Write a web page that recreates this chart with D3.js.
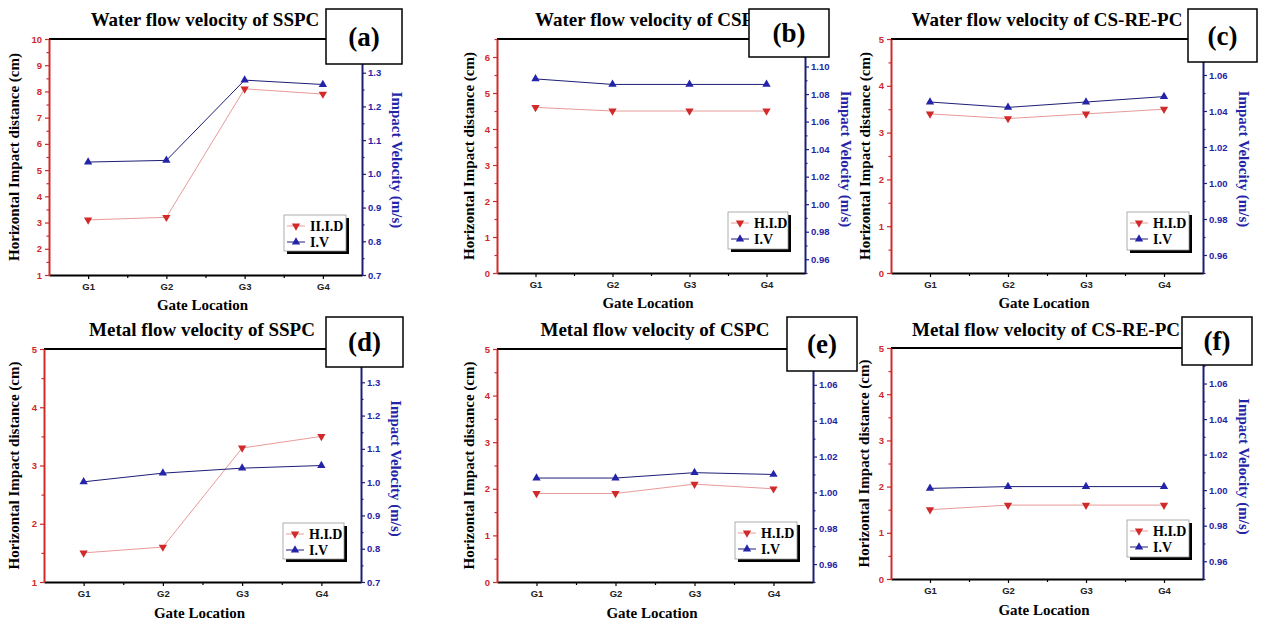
<html>
<head>
<script src="https://cdn.jsdelivr.net/npm/d3@7"></script>
<style>
body { margin:0; background:#fff; }
</style>
</head>
<body>
<script>
// ---- data ----
var gates = ["G1", "G2", "G3", "G4"];
var titles = ["Water flow velocity of SSPC", "Water flow velocity of CSPC", "Water flow velocity of CS-RE-PC",
              "Metal flow velocity of SSPC", "Metal flow velocity of CSPC", "Metal flow velocity of CS-RE-PC"];
var tags = ["(a)", "(b)", "(c)", "(d)", "(e)", "(f)"];
var hidNames = ["II.I.D", "H.I.D", "H.I.D", "H.I.D", "H.I.D", "H.I.D"];

var hidA = [3.1, 3.2, 8.1, 7.9];
var ivA  = [1.035, 1.040, 1.278, 1.265];
var hidB = [4.6, 4.5, 4.5, 4.5];
var ivB  = [1.091, 1.087, 1.087, 1.087];
var hidC = [3.4, 3.3, 3.4, 3.5];
var ivC  = [1.045, 1.042, 1.045, 1.048];
var hidD = [1.5, 1.6, 3.3, 3.5];
var ivD  = [1.001, 1.027, 1.042, 1.050];
var hidE = [1.9, 1.9, 2.1, 2.0];
var ivE  = [1.008, 1.008, 1.011, 1.010];
var hidF = [1.5, 1.6, 1.6, 1.6];
var ivF  = [1.001, 1.002, 1.002, 1.002];

var leftTicksA = [1, 2, 3, 4, 5, 6, 7, 8, 9, 10];
var leftTicksB = [0, 1, 2, 3, 4, 5, 6];
var leftTicks05 = [0, 1, 2, 3, 4, 5];
var leftTicksD = [1, 2, 3, 4, 5];
var rightTicksA = [0.7, 0.8, 0.9, 1.0, 1.1, 1.2, 1.3];
var rightTicksB = [0.96, 0.98, 1.00, 1.02, 1.04, 1.06, 1.08, 1.10];
var rightTicksC = [0.96, 0.98, 1.00, 1.02, 1.04, 1.06];

var red = "#d02a2a", navy = "#1e1e78", blue = "#2424a8";
var serif = "'Liberation Serif', 'Times New Roman', serif";
var sans = "'Liberation Sans', Arial, sans-serif";

var svg = d3.select("body").append("svg")
    .attr("width", 1263)
    .attr("height", 628);

var panels = [
  {hid:hidA, iv:ivA, yl:[1,10], lt:leftTicksA, yr:[0.7,1.4], rt:rightTicksA, rf:".1f",
   left:49, right:362, top:39, bottom:275, tx:205, ty:26, box:[326,9,76,55], leg:[284,215,62,36],
   llx:19, rlx:392, xly:310},
  {hid:hidB, iv:ivB, yl:[0,6.5], lt:leftTicksB, yr:[0.95,1.12], rt:rightTicksB, rf:".2f",
   left:497, right:805, top:39, bottom:273, tx:651, ty:26, box:[749,9,80,48], leg:[728,212,60,37],
   llx:474, rlx:841, xly:308},
  {hid:hidC, iv:ivC, yl:[0,5], lt:leftTicks05, yr:[0.95,1.08], rt:rightTicksC, rf:".2f",
   left:891, right:1203, top:39, bottom:273, tx:1047, ty:26, box:[1188,9,69,53], leg:[1127,212,62,38],
   llx:870, rlx:1239, xly:308},
  {hid:hidD, iv:ivD, yl:[1,5], lt:leftTicksD, yr:[0.7,1.4], rt:rightTicksA, rf:".1f",
   left:44, right:361, top:349, bottom:582, tx:202, ty:336, box:[326,317,77,50], leg:[283,523,61,36],
   llx:19, rlx:391, xly:618},
  {hid:hidE, iv:ivE, yl:[0,5], lt:leftTicks05, yr:[0.95,1.08], rt:rightTicksC, rf:".2f",
   left:497, right:813, top:349, bottom:582, tx:655, ty:336, box:[787,317,70,54], leg:[735,522,62,37],
   llx:474, rlx:845, xly:618, clipRight:853},
  {hid:hidF, iv:ivF, yl:[0,5], lt:leftTicks05, yr:[0.95,1.08], rt:rightTicksC, rf:".2f",
   left:891, right:1203, top:348, bottom:579, tx:1046, ty:336, box:[1182,317,70,48], leg:[1127,520,62,37],
   llx:869, rlx:1239, xly:615}
];

function minors(ticks, dom) {
  var step = ticks[1] - ticks[0];
  var m = ticks.map(function(t) { return t - step / 2; });
  m.push(ticks[ticks.length - 1] + step / 2);
  return m.filter(function(t) { return t >= dom[0] - 1e-9 && t <= dom[1] + 1e-9; });
}

function styleAxis(g, color, width) {
  g.select(".domain").attr("stroke", color).attr("stroke-width", width);
  g.selectAll(".tick line").attr("stroke", color).attr("stroke-width", 1.2);
}

panels.forEach(function(p, k) {
  var x = d3.scaleLinear().domain([0.5, 4.5]).range([p.left, p.right]);
  var yL = d3.scaleLinear().domain(p.yl).range([p.bottom, p.top]);
  var yR = d3.scaleLinear().domain(p.yr).range([p.bottom, p.top]);
  var g = svg.append("g");

  // title
  g.append("text").attr("x", p.tx).attr("y", p.ty)
    .attr("text-anchor", "middle")
    .style("font-family", serif).style("font-weight", "bold").style("font-size", "19px")
    .text(titles[k]);

  // top frame line
  g.append("line").attr("x1", p.left).attr("x2", p.right).attr("y1", p.top).attr("y2", p.top)
    .attr("stroke", "#000").attr("stroke-width", 2);

  // bottom axis
  var gx = g.append("g").attr("transform", "translate(0," + p.bottom + ")")
    .call(d3.axisBottom(x).tickValues([1, 2, 3, 4]).tickSize(4).tickSizeOuter(0).tickPadding(4)
      .tickFormat(function(d) { return gates[d - 1]; }));
  styleAxis(gx, "#000", 2);
  gx.selectAll("text").style("font-family", sans).style("font-weight", "bold").style("font-size", "9.5px").attr("fill", "#222");
  var gxm = g.append("g").attr("transform", "translate(0," + p.bottom + ")")
    .call(d3.axisBottom(x).tickValues([1.5, 2.5, 3.5]).tickSize(3).tickSizeOuter(0).tickFormat(""));
  gxm.select(".domain").remove();
  gxm.selectAll("line").attr("stroke", "#000").attr("stroke-width", 1.2);

  // left axis
  var gl = g.append("g").attr("transform", "translate(" + p.left + ",0)")
    .call(d3.axisLeft(yL).tickValues(p.lt).tickSize(4).tickSizeOuter(0).tickPadding(3).tickFormat(d3.format("d")));
  styleAxis(gl, red, 2);
  gl.selectAll("text").style("font-family", sans).style("font-weight", "bold").style("font-size", "9.5px").attr("fill", red);
  var glm = g.append("g").attr("transform", "translate(" + p.left + ",0)")
    .call(d3.axisLeft(yL).tickValues(minors(p.lt, p.yl)).tickSize(2.5).tickSizeOuter(0).tickFormat(""));
  glm.select(".domain").remove();
  glm.selectAll("line").attr("stroke", red).attr("stroke-width", 1.2);

  // right axis
  var gr = g.append("g").attr("transform", "translate(" + p.right + ",0)")
    .call(d3.axisRight(yR).tickValues(p.rt).tickSize(4).tickSizeOuter(0).tickPadding(2).tickFormat(d3.format(p.rf)));
  styleAxis(gr, navy, 2);
  gr.selectAll("text").style("font-family", sans).style("font-weight", "bold").style("font-size", "9.5px").attr("fill", blue);
  var grm = g.append("g").attr("transform", "translate(" + p.right + ",0)")
    .call(d3.axisRight(yR).tickValues(minors(p.rt, p.yr)).tickSize(2.5).tickSizeOuter(0).tickFormat(""));
  grm.select(".domain").remove();
  grm.selectAll("line").attr("stroke", navy).attr("stroke-width", 1.2);

  // axis titles
  var cy = (p.top + p.bottom) / 2;
  g.append("text").attr("transform", "translate(" + p.llx + "," + cy + ") rotate(-90)")
    .attr("text-anchor", "middle")
    .style("font-family", serif).style("font-weight", "bold").style("font-size", "15px")
    .text("Horizontal Impact distance (cm)");
  var rl = g.append("text").attr("transform", "translate(" + p.rlx + "," + (cy + 3) + ") rotate(90)")
    .attr("text-anchor", "middle").attr("fill", blue)
    .style("font-family", serif).style("font-weight", "bold").style("font-size", "15px")
    .text("Impact Velocity (m/s)");
  if (p.clipRight) {
    svg.append("clipPath").attr("id", "clip" + k).append("rect")
      .attr("x", p.right).attr("y", p.top).attr("width", p.clipRight - p.right).attr("height", p.bottom - p.top);
    rl.attr("clip-path", "url(#clip" + k + ")");
  }
  g.append("text").attr("x", (p.left + p.right) / 2 - 3).attr("y", p.xly)
    .attr("text-anchor", "middle")
    .style("font-family", serif).style("font-weight", "bold").style("font-size", "15px")
    .text("Gate Location");

  // series
  var lineL = d3.line().x(function(d, i) { return x(i + 1); }).y(function(d) { return yL(d); });
  var lineR = d3.line().x(function(d, i) { return x(i + 1); }).y(function(d) { return yR(d); });
  g.append("path").attr("d", lineL(p.hid)).attr("fill", "none").attr("stroke", "#e89a9a").attr("stroke-width", 1);
  g.append("path").attr("d", lineR(p.iv)).attr("fill", "none").attr("stroke", navy).attr("stroke-width", 1);
  var tri = d3.symbol().type(d3.symbolTriangle).size(30);
  g.selectAll(".hidpt").data(p.hid).enter().append("path")
    .attr("d", tri).attr("fill", red)
    .attr("transform", function(d, i) { return "translate(" + x(i + 1) + "," + yL(d) + ") rotate(180)"; });
  g.selectAll(".ivpt").data(p.iv).enter().append("path")
    .attr("d", tri).attr("fill", blue)
    .attr("transform", function(d, i) { return "translate(" + x(i + 1) + "," + yR(d) + ")"; });

  // legend
  var L = p.leg;
  var lg = g.append("g").attr("transform", "translate(" + L[0] + "," + L[1] + ")");
  lg.append("rect").attr("x", 3).attr("y", 3).attr("width", L[2]).attr("height", L[3]).attr("fill", "#000");
  lg.append("rect").attr("width", L[2]).attr("height", L[3]).attr("fill", "#fff")
    .attr("stroke", "#999").attr("stroke-width", 0.8);
  var rows = [{name: hidNames[k], c: red, lc: "#e89a9a", r: 180}, {name: "I.V", c: blue, lc: navy, r: 0}];
  rows.forEach(function(r, j) {
    var yy = 11 + j * 16;
    lg.append("line").attr("x1", 3).attr("x2", 21).attr("y1", yy).attr("y2", yy)
      .attr("stroke", r.lc).attr("stroke-width", 1);
    lg.append("path").attr("d", tri).attr("fill", r.c)
      .attr("transform", "translate(12," + yy + ") rotate(" + r.r + ")");
    lg.append("text").attr("x", 26).attr("y", yy + 5)
      .style("font-family", serif).style("font-weight", "bold").style("font-size", "14px")
      .text(r.name);
  });
});

// panel tags drawn last so they sit on top
panels.forEach(function(p, k) {
  var b = p.box;
  svg.append("rect").attr("x", b[0]).attr("y", b[1]).attr("width", b[2]).attr("height", b[3])
    .attr("fill", "#fff").attr("stroke", "#000").attr("stroke-width", 1.5);
  svg.append("text").attr("x", b[0] + b[2] / 2).attr("y", b[1] + b[3] / 2 + 9)
    .attr("text-anchor", "middle")
    .style("font-family", serif).style("font-weight", "bold").style("font-size", "27px")
    .text(tags[k]);
});
</script>
</body>
</html>
